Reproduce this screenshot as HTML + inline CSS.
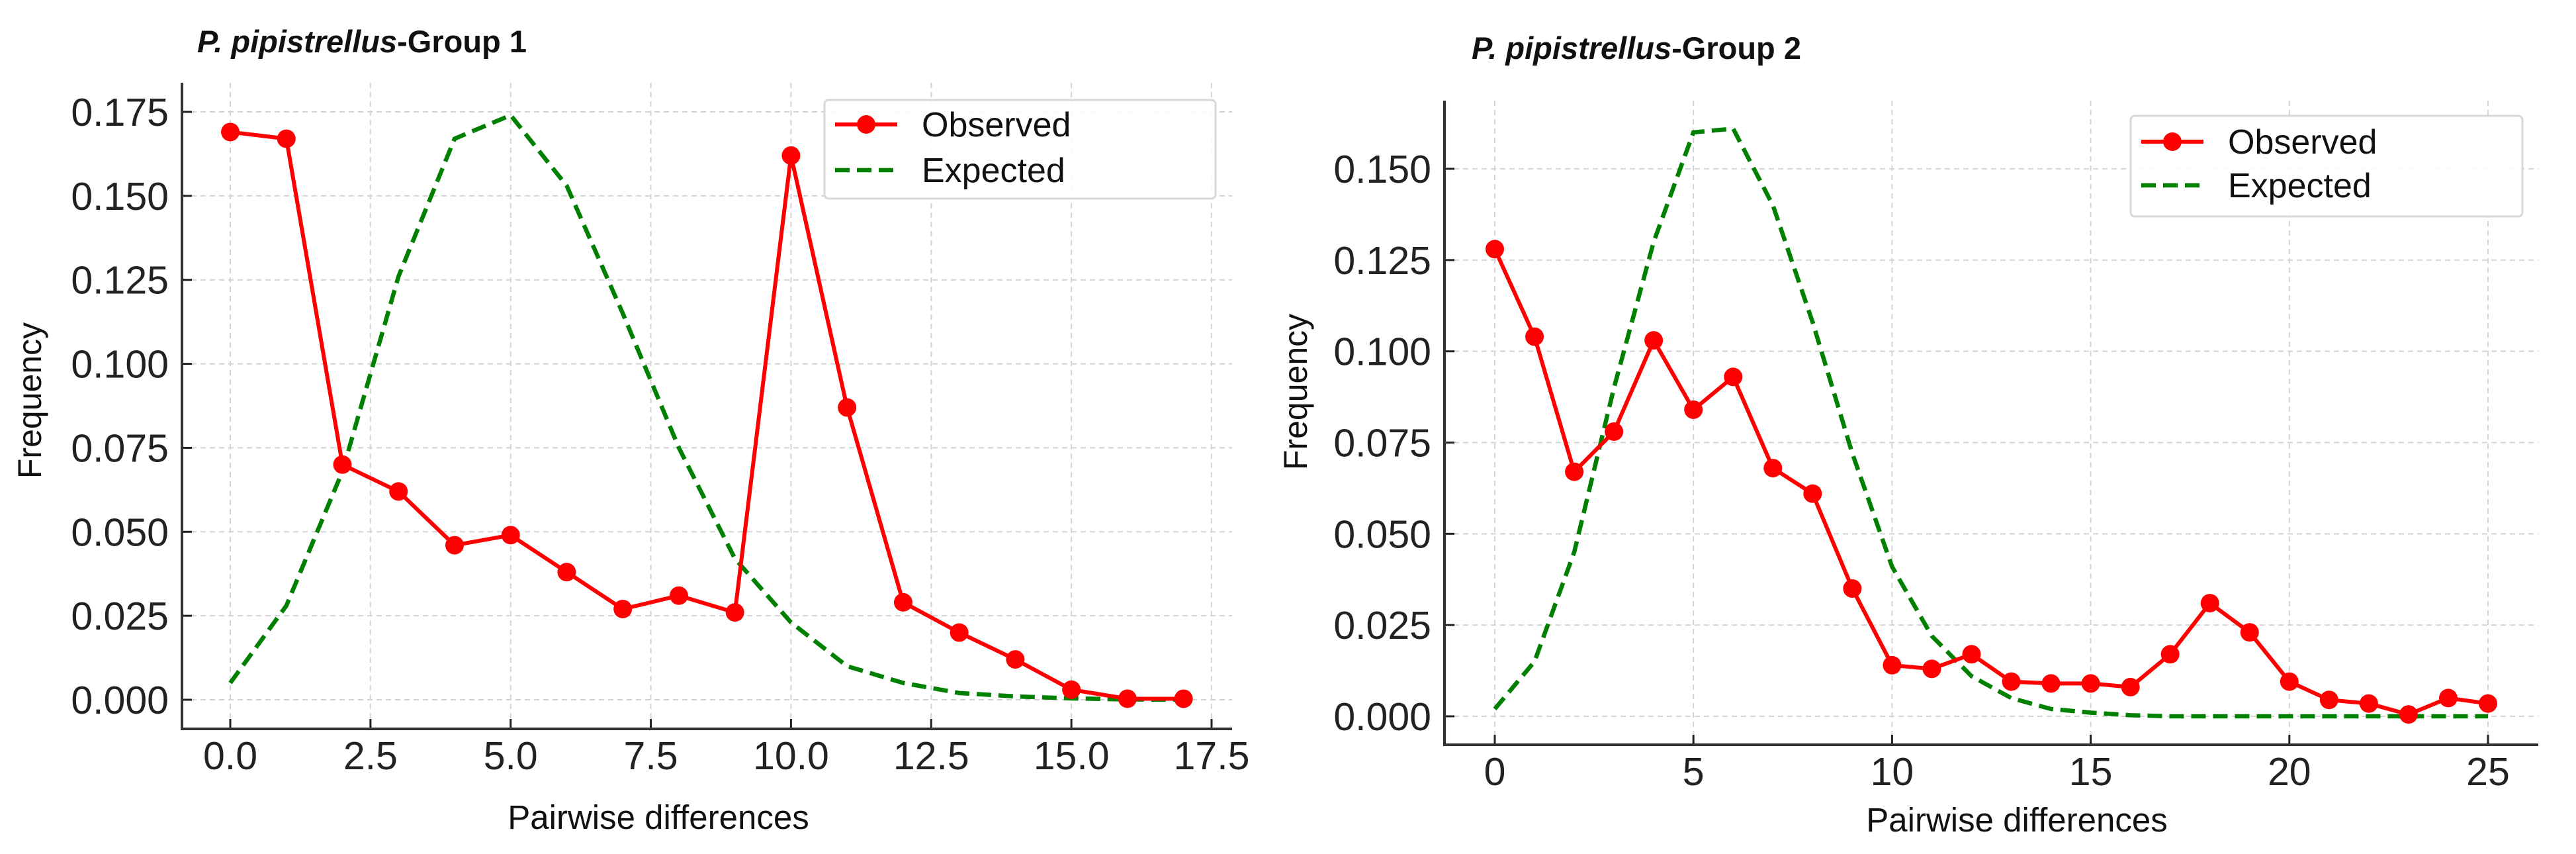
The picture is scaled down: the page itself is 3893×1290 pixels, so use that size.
<!DOCTYPE html>
<html><head><meta charset="utf-8">
<style>
html,body{margin:0;padding:0;background:#fff;}
svg{display:block;font-family:"Liberation Sans",Arial,sans-serif;}
</style></head>
<body>
<svg id="chart" width="3893" height="1290" viewBox="0 0 3893 1290" xmlns="http://www.w3.org/2000/svg">
<rect width="3893" height="1290" fill="#fff"/>
</svg>
<script>
// Group 1 data
const g1X = [0,1,2,3,4,5,6,7,8,9,10,11,12,13,14,15,16,17];
const g1Observed = [0.169,0.167,0.070,0.062,0.046,0.049,0.038,0.027,0.031,0.026,0.162,0.087,0.029,0.020,0.012,0.003,0.0003,0.0003];
const g1Expected = [0.005,0.028,0.068,0.126,0.167,0.174,0.153,0.115,0.075,0.042,0.023,0.010,0.005,0.002,0.001,0.0004,0.0001,0.0];
const g1XTicks = [0,2.5,5,7.5,10,12.5,15,17.5];
const g1XTickLabels = ["0.0","2.5","5.0","7.5","10.0","12.5","15.0","17.5"];
const g1YTicks = [0,0.025,0.05,0.075,0.1,0.125,0.15,0.175];
const g1YTickLabels = ["0.000","0.025","0.050","0.075","0.100","0.125","0.150","0.175"];
// Group 2 data
const g2X = [0,1,2,3,4,5,6,7,8,9,10,11,12,13,14,15,16,17,18,19,20,21,22,23,24,25];
const g2Observed = [0.128,0.104,0.067,0.078,0.103,0.084,0.093,0.068,0.061,0.035,0.014,0.013,0.017,0.0095,0.009,0.009,0.008,0.017,0.031,0.023,0.0095,0.0045,0.0035,0.0005,0.005,0.0035];
const g2Expected = [0.002,0.015,0.045,0.090,0.130,0.160,0.161,0.140,0.108,0.072,0.041,0.022,0.011,0.005,0.002,0.001,0.0003,0,0,0,0,0,0,0,0,0];
const g2XTicks = [0,5,10,15,20,25];
const g2XTickLabels = ["0","5","10","15","20","25"];
const g2YTicks = [0,0.025,0.05,0.075,0.1,0.125,0.15];
const g2YTickLabels = ["0.000","0.025","0.050","0.075","0.100","0.125","0.150"];

const NS="http://www.w3.org/2000/svg";
const svg=document.getElementById('chart');
function mk(tag,attrs,parent){const e=document.createElementNS(NS,tag);for(const k in attrs)e.setAttribute(k,attrs[k]);(parent||svg).appendChild(e);return e;}

function drawPanel(cfg){
  const g=mk('g',{});
  
  
  const sx=v=>cfg.x0px+(v-cfg.xmin)*(cfg.x1px-cfg.x0px)/(cfg.xmax-cfg.xmin);
  const sy=v=>cfg.y0px+(v-cfg.ymin)*(cfg.y1px-cfg.y0px)/(cfg.ymax-cfg.ymin);
  cfg.xTicks.forEach((t,i)=>{
    const l=mk('line',{x1:sx(t),x2:sx(t),y1:cfg.top,y2:cfg.bottom,stroke:'#d4d4d4','stroke-width':2,'stroke-dasharray':'8,6'},g);
    
    
    const tk=mk('line',{x1:sx(t),x2:sx(t),y1:cfg.bottom,y2:cfg.bottom-15,stroke:'#222','stroke-width':3},g);
    
    
    const tx=mk('text',{x:sx(t),y:cfg.bottom+61,'text-anchor':'middle','font-size':59,fill:'#222'},g);
    tx.textContent=cfg.xTickLabels[i];
    
    
  });
  cfg.yTicks.forEach((t,i)=>{
    const l=mk('line',{x1:cfg.left,x2:cfg.right,y1:sy(t),y2:sy(t),stroke:'#d4d4d4','stroke-width':2,'stroke-dasharray':'8,6'},g);
    
    
    const tk=mk('line',{x1:cfg.left,x2:cfg.left+15,y1:sy(t),y2:sy(t),stroke:'#222','stroke-width':3},g);
    
    
    const tx=mk('text',{x:cfg.left-20,y:sy(t)+21,'text-anchor':'end','font-size':59,fill:'#222'},g);
    tx.textContent=cfg.yTickLabels[i];
    
    
  });
  const sp=mk('path',{d:`M${cfg.left},${cfg.top} L${cfg.left},${cfg.bottom} L${cfg.right},${cfg.bottom}`,fill:'none',stroke:'#333','stroke-width':4},g);
  
  
  const ep=mk('polyline',{points:cfg.xs.map((x,i)=>sx(x)+','+sy(cfg.exp[i])).join(' '),fill:'none',stroke:'#008000','stroke-width':6.5,'stroke-dasharray':'22,11'},g);
  
  
  const op=mk('polyline',{points:cfg.xs.map((x,i)=>sx(x)+','+sy(cfg.obs[i])).join(' '),fill:'none',stroke:'#ff0000','stroke-width':6,'stroke-linejoin':'round'},g);
  
  
  cfg.xs.forEach((x,i)=>{
    const c=mk('circle',{cx:sx(x),cy:sy(cfg.obs[i]),r:14,fill:'#ff0000'},g);
    
    
  });
  const ti=mk('text',{x:cfg.titleX,y:cfg.titleY,'font-size':47,'font-weight':'bold',fill:'#111'},g);
  
  
  const ts=mk('tspan',{'font-style':'italic'},ti); ts.textContent='P. pipistrellus';
  const ts2=mk('tspan',{},ti); ts2.textContent=cfg.titleRest;
  const xl=mk('text',{x:cfg.xlabX,y:cfg.xlabY,'text-anchor':'middle','font-size':51,fill:'#111'},g);
  xl.textContent='Pairwise differences';
  
  
  const yl=mk('text',{x:0,y:0,'text-anchor':'middle','font-size':50,fill:'#111',transform:`translate(${cfg.ylabX},${cfg.ylabY}) rotate(-90)`},g);
  yl.textContent='Frequency';
  
  
  const L=cfg.legend;
  const lg=mk('g',{},g);
  
  
  mk('rect',{x:L.x,y:L.y,width:L.w,height:L.h,rx:6,fill:'#fff','fill-opacity':0.9,stroke:'#d8d8d8','stroke-width':3},lg);
  const e1=mk('g',{},lg);
  
  
  mk('line',{x1:L.x+16,x2:L.x+110,y1:L.y1,y2:L.y1,stroke:'#ff0000','stroke-width':6},e1);
  mk('circle',{cx:L.x+63,cy:L.y1,r:14,fill:'#ff0000'},e1);
  const t1=mk('text',{x:L.x+147,y:L.y1+18,'font-size':52,fill:'#111'},e1); t1.textContent='Observed';
  const e2=mk('g',{},lg);
  
  
  mk('line',{x1:L.x+16,x2:L.x+110,y1:L.y2,y2:L.y2,stroke:'#008000','stroke-width':6.5,'stroke-dasharray':'22,11'},e2);
  const t2=mk('text',{x:L.x+147,y:L.y2+18,'font-size':52,fill:'#111'},e2); t2.textContent='Expected';
}

drawPanel({name:'panel-group-1',xs:g1X,obs:g1Observed,exp:g1Expected,
  xTicks:g1XTicks,xTickLabels:g1XTickLabels,yTicks:g1YTicks,yTickLabels:g1YTickLabels,
  xmin:0,xmax:17.5,x0px:348,x1px:1831,ymin:0,ymax:0.175,y0px:1057,y1px:169,
  left:275,right:1862,top:125,bottom:1101,
  titleX:298,titleY:79,titleRest:'-Group 1',xlabX:995,xlabY:1252,ylabX:62,ylabY:605,
  legend:{x:1246,y:151,w:591,h:149,y1:188,y2:257}});
drawPanel({name:'panel-group-2',xs:g2X,obs:g2Observed,exp:g2Expected,
  xTicks:g2XTicks,xTickLabels:g2XTickLabels,yTicks:g2YTicks,yTickLabels:g2YTickLabels,
  xmin:0,xmax:25,x0px:2259,x1px:3760,ymin:0,ymax:0.15,y0px:1082,y1px:255,
  left:2183,right:3836,top:152,bottom:1125,
  titleX:2224,titleY:89,titleRest:'-Group 2',xlabX:3048,xlabY:1256,ylabX:1975,ylabY:592,
  legend:{x:3220,y:175,w:592,h:152,y1:214,y2:280}});
</script>
</body></html>
